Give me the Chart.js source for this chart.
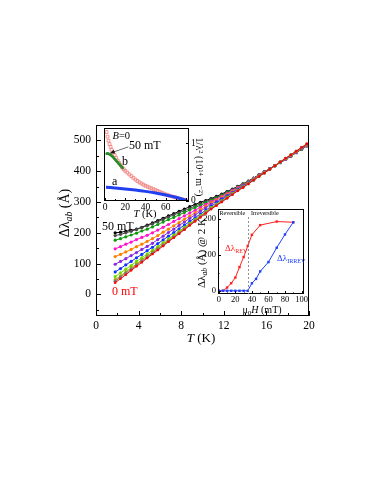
<!DOCTYPE html>
<html>
<head>
<meta charset="utf-8">
<script src="https://cdn.jsdelivr.net/npm/chart.js@4.4.1/dist/chart.umd.min.js"></script>
<style>
  body { margin: 0; background: #fff; }
  #wrap { position: relative; width: 382px; height: 494px; font-family: "Liberation Serif", serif; color: #000; }
  canvas { position: absolute; left: 0; top: 0; }
  .lbl { position: absolute; white-space: nowrap; line-height: 1; transform: translateY(-50%); }
  .ctr { transform: translate(-50%, -50%); }
  .up { transform: translate(-50%, -50%) rotate(-90deg); }
  .down { transform: translate(-50%, -50%) rotate(90deg); }
  .sb { font-size: 0.7em; position: relative; top: 0.3em; }
  .sp { font-size: 0.65em; position: relative; top: -0.45em; }
</style>
</head>
<body>
<div id="wrap">
  <canvas id="main" width="382" height="494"></canvas>
  <canvas id="ins1" width="382" height="494"></canvas>
  <canvas id="ins2" width="382" height="494"></canvas>

  <!-- main axis titles -->
  <div class="lbl up" style="left:65px;top:213px;font-size:14px">&Delta;&lambda;<i class="sb">ab</i> (&Aring;)</div>
  <div class="lbl ctr" style="left:201px;top:337px;font-size:13px"><i>T</i> (K)</div>
  <div class="lbl" style="left:102px;top:225.5px;font-size:12px">50 mT</div>
  <div class="lbl" style="left:112px;top:291px;font-size:12px;color:#ff0000">0 mT</div>

  <!-- upper inset -->
  <div class="lbl" style="left:112.5px;top:136px;font-size:10.5px"><i>B</i>=0</div>
  <div class="lbl" style="left:129px;top:145px;font-size:12px">50 mT</div>
  <div class="lbl" style="left:122px;top:161px;font-size:12px">b</div>
  <div class="lbl" style="left:112px;top:181px;font-size:12px">a</div>
  <div class="lbl ctr" style="left:145px;top:213.5px;font-size:10.5px"><i>T</i> (K)</div>
  <div class="lbl down" style="left:198.5px;top:167px;font-size:10px">1/&lambda;<span class="sp">2</span> (10<span class="sp">14</span> m<span class="sp">&minus;2</span>)</div>

  <!-- lower inset -->
  <div class="lbl up" style="left:201px;top:253px;font-size:11px">&Delta;&lambda;<i class="sb">ab</i> (&Aring;) @ 2 K</div>
  <div class="lbl ctr" style="left:262px;top:310px;font-size:10px">&mu;<span class="sb">0</span><i>H</i> (mT)</div>
  <div class="lbl" style="left:219.5px;top:212.5px;font-size:6px">Reversible</div>
  <div class="lbl" style="left:251px;top:212.5px;font-size:6px">Irreversible</div>
  <div class="lbl" style="left:225px;top:248px;font-size:9px;color:#ff2020">&Delta;&lambda;<span class="sb" style="font-size:0.68em">REV</span></div>
  <div class="lbl" style="left:277px;top:258px;font-size:9px;color:#2040ff">&Delta;&lambda;<span class="sb" style="font-size:0.68em">IRREV</span></div>
</div>

<script>
// main panel: delta lambda_ab (A) vs T (K), one curve per field
const temps = [1.8, 2.3, 2.8, 3.3, 3.8, 4.3, 4.8, 5.3, 5.8, 6.3, 6.8, 7.3, 7.8, 8.3, 8.8, 9.3, 9.8, 10.3, 10.8,
  11.3, 11.8, 12.3, 12.8, 13.3, 13.8, 14.3, 14.8, 15.3, 15.8, 16.3, 16.8, 17.3, 17.8, 18.3, 18.8, 19.3, 19.8];
const fieldsMT = [0, 5, 10, 15, 20, 25, 30, 35, 40, 45, 50];

const lam0mT  = [38, 51, 64, 78, 91, 104, 118, 131, 144, 157, 171, 184, 197, 210, 224, 237, 250, 263, 277,
  288, 300, 312, 324, 336, 347, 359, 371, 383, 394, 406, 418, 430, 442, 453, 465, 477, 489];
const lam5mT  = [43, 56, 69, 82, 95, 108, 121, 134, 147, 160, 173, 186, 199, 212, 226, 239, 252, 265, 278,
  290, 301, 313, 325, 337, 348, 359, 371, 383, 394, 406, 418, 430, 442, 453, 465, 477, 488];
const lam10mT = [48, 60, 73, 86, 99, 112, 125, 138, 150, 163, 176, 189, 202, 215, 228, 241, 254, 267, 280,
  291, 303, 314, 326, 338, 348, 360, 372, 384, 394, 406, 418, 430, 442, 453, 464, 476, 488];
const lam15mT = [58, 70, 82, 94, 107, 119, 131, 143, 155, 168, 180, 193, 205, 218, 231, 243, 256, 269, 282,
  293, 304, 316, 327, 339, 349, 361, 372, 384, 395, 406, 418, 430, 441, 452, 464, 476, 488];
const lam20mT = [73, 84, 96, 107, 119, 130, 142, 153, 165, 177, 189, 201, 213, 225, 237, 249, 261, 273, 286,
  297, 308, 319, 329, 341, 351, 362, 373, 385, 395, 407, 418, 429, 441, 452, 463, 475, 487];
const lam25mT = [98, 107, 116, 126, 136, 146, 156, 166, 178, 189, 201, 212, 224, 235, 247, 258, 270, 281, 293,
  302, 312, 322, 332, 343, 353, 363, 374, 385, 396, 407, 418, 429, 440, 451, 463, 474, 486];
const lam30mT = [123, 130, 138, 146, 155, 163, 172, 181, 191, 202, 212, 223, 233, 244, 254, 265, 275, 286, 297,
  306, 316, 325, 335, 345, 354, 364, 375, 386, 396, 407, 418, 429, 440, 451, 462, 473, 485];
const lam35mT = [148, 155, 163, 170, 178, 185, 192, 200, 209, 218, 227, 237, 246, 255, 264, 273, 283, 292, 301,
  309, 318, 327, 337, 347, 355, 365, 376, 387, 397, 407, 418, 429, 439, 450, 461, 473, 484];
const lam40mT = [176, 181, 187, 193, 199, 206, 212, 219, 227, 235, 243, 250, 258, 266, 274, 282, 289, 297, 305,
  312, 321, 330, 338, 348, 357, 366, 377, 387, 397, 408, 418, 428, 439, 450, 461, 472, 484];
const lam45mT = [191, 195, 200, 205, 211, 217, 223, 229, 236, 243, 251, 258, 265, 272, 279, 287, 294, 301, 308,
  315, 323, 332, 340, 350, 358, 367, 377, 388, 398, 408, 418, 428, 438, 449, 461, 472, 483];
const lam50mT = [200, 202, 205, 208, 212, 218, 225, 232, 240, 247, 255, 262, 270, 277, 285, 292, 299, 305, 311,
  318, 326, 334, 342, 351, 359, 368, 378, 388, 398, 408, 418, 428, 438, 449, 460, 471, 482];

// upper inset: 1/lambda^2 (10^14 m^-2) vs T (K)
const zeroFieldT = [1.5, 2.5, 3.5, 4.5, 5.5, 6.5, 8, 9.5, 11, 12.5, 14, 15.5, 17, 18.5, 20, 22, 24, 26, 28, 30,
  32, 34, 36, 38, 40, 42, 44, 46, 48, 50, 52, 54, 56, 58, 60, 62, 64, 66, 68, 70, 72, 74, 76, 78, 80];
const zeroFieldInv = [1.20, 1.12, 1.05, 0.99, 0.94, 0.89, 0.84, 0.80, 0.75, 0.70, 0.66, 0.62, 0.58, 0.55,
  0.52, 0.49, 0.46, 0.43, 0.40, 0.37, 0.345, 0.32, 0.30, 0.28, 0.26, 0.245, 0.23, 0.215, 0.20, 0.185, 0.17,
  0.155, 0.14, 0.125, 0.11, 0.10, 0.085, 0.075, 0.065, 0.055, 0.045, 0.035, 0.025, 0.015, 0.005];
const curveBT = [1.5, 2.5, 3.5, 4.5, 5.5, 6.5, 7.5, 8.5, 9.5, 10.5, 11.5, 12.5, 13.5, 14.5, 15.5, 16.5, 17.5];
const curveBInv = [0.82, 0.825, 0.82, 0.81, 0.80, 0.785, 0.77, 0.75, 0.73, 0.71, 0.69, 0.67, 0.65, 0.63, 0.61, 0.59, 0.57];
const curveAT = [1, 5, 10, 15, 20, 25, 30, 35, 40, 45, 50, 55, 60, 65, 70, 75, 80];
const curveAInv = [0.235, 0.23, 0.222, 0.214, 0.205, 0.196, 0.186, 0.175, 0.163, 0.15, 0.135, 0.118, 0.1, 0.08, 0.06, 0.035, 0.008];

// lower inset: delta lambda at 2 K vs mu0 H (mT)
const irrevField = [0, 5, 10, 15, 20, 25, 30, 35, 40, 45, 50, 60, 70, 80, 90];
const irrevLam = [0, 0, 0, 0, 0, 0, 0, 0, 21, 33, 54, 80, 120, 157, 191];
const revField = [0, 5, 10, 15, 20, 25, 30, 35, 40, 50, 70, 90];
const revLam = [0, 0, 9, 21, 37, 66, 94, 125, 156, 183, 193, 191];
const boundaryMT = 35;

const F = 'Liberation Serif';
Chart.defaults.font.family = F;
Chart.defaults.color = '#000';

const mk = (xs, ys) => xs.map((x, i) => ({ x: x, y: ys[i] }));

// box round the plot area plus inward tick marks
const frameTicks = {
  id: 'frameTicks',
  afterDatasetsDraw(chart, args, opts) {
    const { ctx, chartArea: a } = chart;
    ctx.save();
    ctx.strokeStyle = '#000';
    ctx.lineWidth = 1;
    ctx.strokeRect(a.left + 0.5, a.top + 0.5, a.right - a.left - 1, a.bottom - a.top - 1);
    (opts.axes || []).forEach(ax => {
      const s = chart.scales[ax.id];
      const majors = s.ticks.map(t => t.value);
      const step = majors[1] - majors[0];
      const minors = [];
      majors.forEach(v => minors.push(v + step / 2));
      minors.push(majors[0] - step / 2);
      const mark = (v, len) => {
        if (v < s.min || v > s.max) return;
        const p = Math.round(s.getPixelForValue(v)) + 0.5;
        ctx.beginPath();
        if (ax.edge === 'bottom') { ctx.moveTo(p, a.bottom); ctx.lineTo(p, a.bottom - len); }
        if (ax.edge === 'left') { ctx.moveTo(a.left, p); ctx.lineTo(a.left + len, p); }
        if (ax.edge === 'right') { ctx.moveTo(a.right, p); ctx.lineTo(a.right - len, p); }
        ctx.stroke();
      };
      majors.forEach(v => mark(v, ax.len));
      minors.forEach(v => mark(v, ax.minorLen));
    });
    ctx.restore();
  }
};

function axis(extra) {
  return Object.assign({
    type: 'linear',
    grid: { display: false, drawTicks: false },
    border: { display: false }
  }, extra);
}

// ---------- main chart ----------
const mainSeries = [lam0mT, lam5mT, lam10mT, lam15mT, lam20mT, lam25mT, lam30mT, lam35mT, lam40mT, lam45mT, lam50mT];
const mainColors = ['#ff0000', '#7a7a7a', '#a3a300', '#6fdc00', '#1234ff', '#8a2be2', '#ff8000', '#ff14cc', '#0f9a0f', '#4a4a4a', '#000000'];

new Chart(document.getElementById('main'), {
  type: 'line',
  data: {
    datasets: mainSeries.map((vs, k) => ({
      label: fieldsMT[k] + ' mT',
      data: mk(temps, vs),
      borderColor: mainColors[k],
      backgroundColor: mainColors[k],
      borderWidth: 1,
      pointRadius: 1.6,
      pointBorderWidth: 0,
      pointStyle: k === 0 ? 'rect' : 'circle'
    }))
  },
  options: {
    responsive: false, animation: false, devicePixelRatio: 1,
    layout: { padding: { left: 56, top: 125, right: 73, bottom: 138 } },
    plugins: {
      legend: { display: false }, tooltip: { enabled: false },
      frameTicks: { axes: [{ id: 'x', edge: 'bottom', len: 5, minorLen: 3 }, { id: 'y', edge: 'left', len: 5, minorLen: 3 }] }
    },
    scales: {
      x: axis({ min: 0, max: 20, afterFit(s) { s.height = 40; },
        ticks: { stepSize: 4, autoSkip: false, maxRotation: 0, includeBounds: false, padding: 3, font: { size: 11.5 } } }),
      y: axis({ min: -70, max: 550, afterFit(s) { s.width = 40; },
        ticks: { stepSize: 100, autoSkip: false, includeBounds: false, padding: 5, font: { size: 11.5 } } })
    }
  },
  plugins: [frameTicks]
});

// ---------- upper inset ----------
const arrow = {
  id: 'arrow',
  afterDatasetsDraw(chart) {
    const { ctx, scales: { x, y } } = chart;
    const x0 = x.getPixelForValue(23), y0 = y.getPixelForValue(0.94);
    const x1 = x.getPixelForValue(5), y1 = y.getPixelForValue(0.83);
    const ang = Math.atan2(y1 - y0, x1 - x0);
    ctx.save();
    ctx.strokeStyle = '#444'; ctx.fillStyle = '#111'; ctx.lineWidth = 0.8;
    ctx.beginPath(); ctx.moveTo(x0, y0); ctx.lineTo(x1, y1); ctx.stroke();
    ctx.beginPath();
    ctx.moveTo(x1, y1);
    ctx.lineTo(x1 - 5 * Math.cos(ang - 0.4), y1 - 5 * Math.sin(ang - 0.4));
    ctx.lineTo(x1 - 5 * Math.cos(ang + 0.4), y1 - 5 * Math.sin(ang + 0.4));
    ctx.closePath(); ctx.fill();
    ctx.restore();
  }
};

new Chart(document.getElementById('ins1'), {
  type: 'line',
  data: {
    datasets: [
      { label: 'b (50 mT)', data: mk(curveBT, curveBInv), borderColor: '#2a8c2a', backgroundColor: '#2a8c2a',
        borderWidth: 2.5, pointRadius: 1.2, pointBorderWidth: 0 },
      { label: 'a', data: mk(curveAT, curveAInv), borderColor: '#1f3ff0', backgroundColor: '#1f3ff0',
        borderWidth: 3, pointRadius: 0 },
      { label: 'B=0', data: mk(zeroFieldT, zeroFieldInv), showLine: false, borderColor: '#f07a7a',
        backgroundColor: 'rgba(255,255,255,0)', pointStyle: 'rect', pointRadius: 2, pointBorderWidth: 0.8 }
    ]
  },
  options: {
    responsive: false, animation: false, devicePixelRatio: 1,
    layout: { padding: { left: 104, top: 128, right: 181, bottom: 279 } },
    plugins: {
      legend: { display: false }, tooltip: { enabled: false },
      frameTicks: { axes: [{ id: 'x', edge: 'bottom', len: 3, minorLen: 2 }, { id: 'y', edge: 'right', len: 3, minorLen: 2 }] }
    },
    scales: {
      x: axis({ min: -1, max: 83, afterFit(s) { s.height = 14; },
        ticks: { stepSize: 20, autoSkip: false, maxRotation: 0, includeBounds: false, padding: 1,
          font: { size: 9.5 }, callback: v => (v === 80 ? '' : v) } }),
      y: axis({ position: 'right', min: -0.005, max: 1.27, afterFit(s) { s.width = 12; },
        ticks: { stepSize: 1, autoSkip: false, includeBounds: false, padding: 2, font: { size: 9.5 } } })
    }
  },
  plugins: [frameTicks, arrow]
});

// ---------- lower inset ----------
const boundary = {
  id: 'boundary',
  afterDatasetsDraw(chart) {
    const { ctx, chartArea: a, scales: { x } } = chart;
    const px = Math.round(x.getPixelForValue(boundaryMT)) + 0.5;
    ctx.save();
    ctx.strokeStyle = '#777'; ctx.lineWidth = 0.8; ctx.setLineDash([2, 2]);
    ctx.beginPath(); ctx.moveTo(px, a.top + 8); ctx.lineTo(px, a.bottom); ctx.stroke();
    ctx.restore();
  }
};

new Chart(document.getElementById('ins2'), {
  type: 'line',
  data: {
    datasets: [
      { label: 'IRREV', data: mk(irrevField, irrevLam), borderColor: '#2040ff', backgroundColor: '#2040ff',
        borderWidth: 1, pointStyle: 'rect', pointRadius: 1.7, pointBorderWidth: 0 },
      { label: 'REV', data: mk(revField, revLam), borderColor: '#ff2020', backgroundColor: '#ff2020',
        borderWidth: 1, pointStyle: 'rect', pointRadius: 1.7, pointBorderWidth: 0 }
    ]
  },
  options: {
    responsive: false, animation: false, devicePixelRatio: 1,
    layout: { padding: { left: 200, top: 209, right: 78, bottom: 188 } },
    plugins: {
      legend: { display: false }, tooltip: { enabled: false },
      frameTicks: { axes: [{ id: 'x', edge: 'bottom', len: 3, minorLen: 1.5 }, { id: 'y', edge: 'left', len: 3, minorLen: 1.5 }] }
    },
    scales: {
      x: axis({ min: -1, max: 103, afterFit(s) { s.height = 12; },
        ticks: { stepSize: 20, autoSkip: false, maxRotation: 0, includeBounds: false, padding: 1, font: { size: 8.5 } } }),
      y: axis({ min: -9, max: 228, afterFit(s) { s.width = 18; },
        ticks: { stepSize: 100, autoSkip: false, includeBounds: false, padding: 2, font: { size: 8.5 } } })
    }
  },
  plugins: [frameTicks, boundary]
});
</script>
</body>
</html>
